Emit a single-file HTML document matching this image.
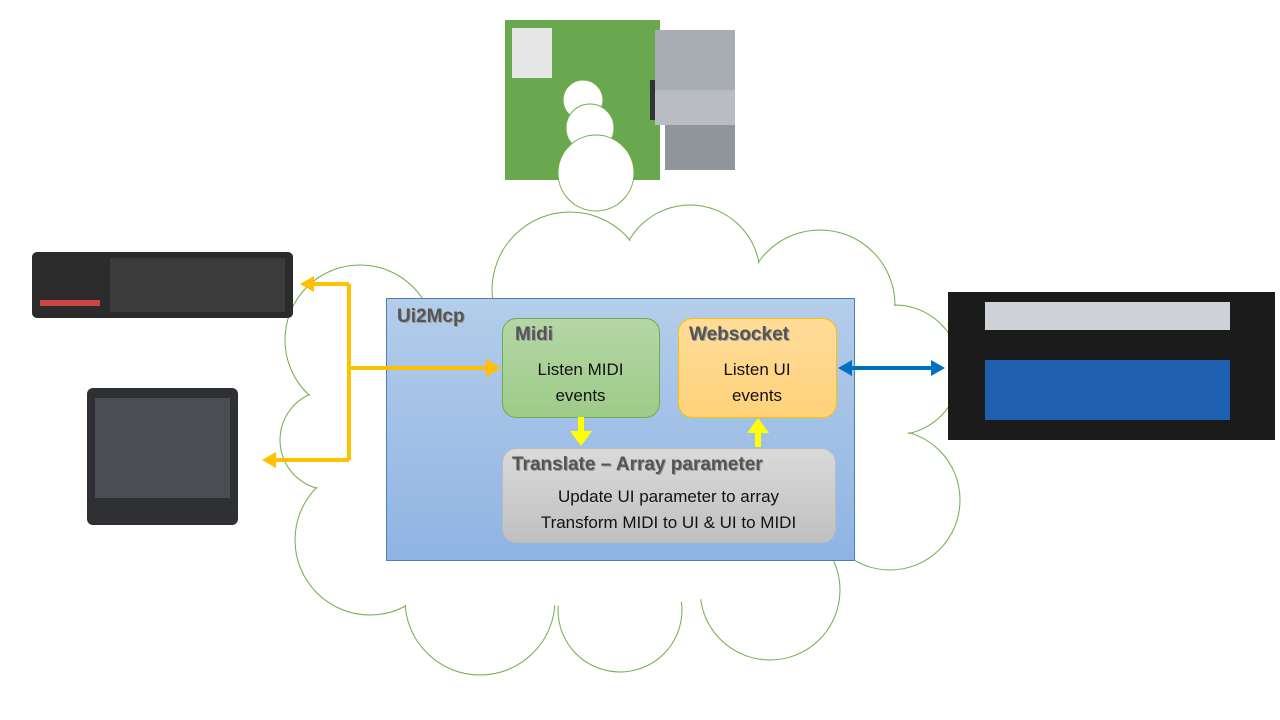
<!DOCTYPE html>
<html><head><meta charset="utf-8"><style>
body{margin:0;width:1280px;height:720px;background:#fff;overflow:hidden;position:relative;font-family:"Liberation Sans",sans-serif}
.abs{position:absolute}
.t{font-family:"Liberation Sans",sans-serif;font-size:17px;color:#111;text-align:center;line-height:26px}
.h{font-weight:bold;color:#555;font-size:19px;text-shadow:1px 1px 0 #999}
</style></head><body>
<svg class="abs" style="left:0;top:0" width="1280" height="720">
<g fill="none" stroke="#70ad47" stroke-width="1">
<circle cx="570" cy="290" r="78"/><circle cx="690" cy="275" r="70"/><circle cx="820" cy="305" r="75"/>
<circle cx="360" cy="340" r="75"/><circle cx="330" cy="440" r="50"/><circle cx="370" cy="540" r="75"/>
<circle cx="480" cy="600" r="75"/><circle cx="620" cy="610" r="62"/><circle cx="770" cy="590" r="70"/>
<circle cx="890" cy="500" r="70"/><circle cx="895" cy="370" r="65"/>
</g>
<g fill="#fff">
<circle cx="570" cy="290" r="77"/><circle cx="690" cy="275" r="69"/><circle cx="820" cy="305" r="74"/>
<circle cx="360" cy="340" r="74"/><circle cx="330" cy="440" r="49"/><circle cx="370" cy="540" r="74"/>
<circle cx="480" cy="600" r="74"/><circle cx="620" cy="610" r="61"/><circle cx="770" cy="590" r="69"/>
<circle cx="890" cy="500" r="69"/><circle cx="895" cy="370" r="64"/>
<polygon points="570,290 690,275 820,305 895,370 890,500 770,590 620,610 480,600 370,540 330,440 360,340"/>
</g>
<!-- raspberry -->
<rect x="505" y="20" width="155" height="160" fill="#6aa84f"/>
<rect x="512" y="28" width="40" height="50" fill="#e6e6e6"/>
<rect x="650" y="80" width="30" height="40" fill="#333"/>
<rect x="655" y="30" width="80" height="60" fill="#a8adb3"/>
<rect x="655" y="90" width="80" height="35" fill="#b9bdc2"/>
<rect x="665" y="125" width="70" height="45" fill="#8f959b"/>
<circle cx="583" cy="100" r="20" fill="#fff" stroke="#70ad47"/><circle cx="590" cy="128" r="24" fill="#fff" stroke="#70ad47"/>
<circle cx="596" cy="173" r="38" fill="#fff" stroke="#70ad47"/>
<!-- korg -->
<rect x="32" y="252" width="261" height="66" rx="5" fill="#2b2b2b"/>
<rect x="110" y="258" width="175" height="54" fill="#3b3b3b"/>
<g fill="#c44">
<rect x="40" y="300" width="60" height="6"/></g>
<!-- faderport -->
<rect x="87" y="388" width="151" height="137" rx="6" fill="#2e3033"/>
<rect x="95" y="398" width="135" height="100" fill="#4a4d52"/>
<!-- soundcraft -->
<rect x="948" y="292" width="327" height="148" fill="#1b1b1b"/>
<rect x="985" y="302" width="245" height="28" fill="#cfd3d8"/>
<rect x="985" y="360" width="245" height="60" fill="#1f5fb0"/>
<!-- main box -->
<defs><linearGradient id="g" x1="0" y1="0" x2="0" y2="1"><stop offset="0" stop-color="#b4cdea"/><stop offset="1" stop-color="#8fb4e3"/></linearGradient>
<linearGradient id="gg" x1="0" y1="0" x2="0" y2="1"><stop offset="0" stop-color="#b5d6a6"/><stop offset="1" stop-color="#9ecb88"/></linearGradient>
<linearGradient id="go" x1="0" y1="0" x2="0" y2="1"><stop offset="0" stop-color="#ffdc9a"/><stop offset="1" stop-color="#ffd27a"/></linearGradient>
<linearGradient id="gr" x1="0" y1="0" x2="0" y2="1"><stop offset="0" stop-color="#dadada"/><stop offset="1" stop-color="#c0c0c0"/></linearGradient></defs>
<rect x="386.5" y="298.5" width="468" height="262" fill="url(#g)" stroke="#4a7ebb"/>
<rect x="502.5" y="318.5" width="157" height="99" rx="14" fill="url(#gg)" stroke="#70ad47"/>
<rect x="678.5" y="318.5" width="158" height="99" rx="14" fill="url(#go)" stroke="#ffc000"/>
<rect x="502.5" y="448.5" width="333" height="94" rx="14" fill="url(#gr)" stroke="#bbb"/>
<!-- orange arrows -->
<g stroke="#ffc000" stroke-width="4" fill="none">
<path d="M349 284 V460"/><path d="M349 284 H312"/><path d="M349 460 H275"/><path d="M349 368 H488"/>
</g>
<g fill="#ffc000">
<polygon points="300,284 314,276 314,292"/><polygon points="262,460 276,452 276,468"/><polygon points="501,368 486,359 486,377"/>
</g>
<!-- yellow -->
<rect x="578" y="417" width="6" height="16" fill="#ffff00"/><polygon points="570,431 592,431 581,446" fill="#ffff00"/>
<rect x="755" y="432" width="6" height="15" fill="#ffff00"/><polygon points="747,433 769,433 758,418" fill="#ffff00"/>
<!-- blue -->
<path d="M850 368 H932" stroke="#0070c0" stroke-width="4"/>
<polygon points="838,368 852,360 852,376" fill="#0070c0"/><polygon points="945,368 931,360 931,376" fill="#0070c0"/>
</svg>
<div class="abs h" style="left:397px;top:306px">Ui2Mcp</div>
<div class="abs h" style="left:515px;top:324px">Midi</div>
<div class="abs h" style="left:689px;top:324px">Websocket</div>
<div class="abs h" style="left:512px;top:454px">Translate – Array parameter</div>
<div class="abs t" style="left:502px;top:357px;width:157px">Listen MIDI<br>events</div>
<div class="abs t" style="left:678px;top:357px;width:158px">Listen UI<br>events</div>
<div class="abs t" style="left:502px;top:484px;width:333px">Update UI parameter to array<br>Transform MIDI to UI &amp; UI to MIDI</div>
</body></html>
